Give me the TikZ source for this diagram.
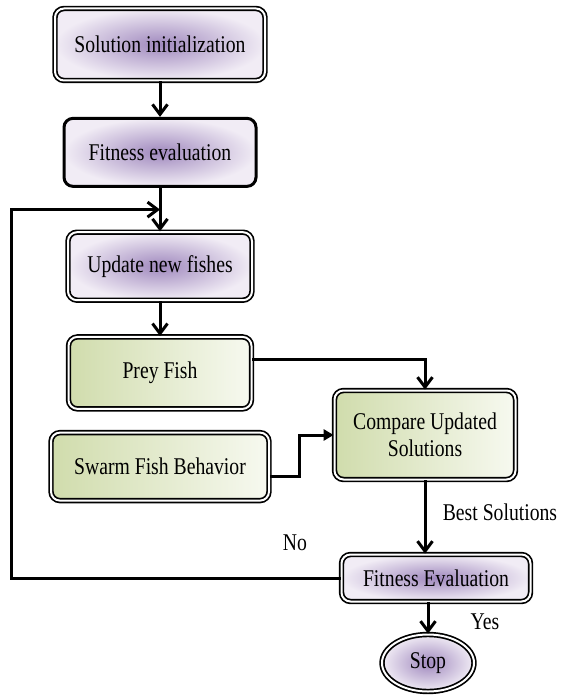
\documentclass[tikz,border=0pt]{standalone}
\usepackage{fontspec}
\setmainfont{Liberation Serif}[FakeStretch=0.82]
\usepackage{tikz}
\usetikzlibrary{arrows.meta,positioning,calc,shapes.geometric}

\definecolor{lilac}{HTML}{A089BE}
\definecolor{lilacpale}{HTML}{F1ECF5}
\definecolor{leaf}{HTML}{D0DCAC}
\definecolor{leafpale}{HTML}{F7F9F0}

\begin{document}
\begin{tikzpicture}[
  x=1pt, y=-1pt,
  font=\fontsize{24}{27}\selectfont,
  node distance=35pt,
  purplebox/.style={draw, rounded corners=9pt, double, double distance=2pt, line width=1.7pt,
    inner color=lilac, outer color=lilacpale, align=center},
  plainbox/.style={draw, rounded corners=9pt, line width=3pt,
    inner color=lilac, outer color=lilacpale, align=center},
  greenbox/.style={draw, rounded corners=9pt, double, double distance=2pt, line width=1.7pt,
    left color=leaf, right color=leafpale, align=center},
  endbox/.style={ellipse, draw, double, double distance=2pt, line width=1.7pt,
    inner color=lilac, outer color=lilacpale, minimum width=92pt, minimum height=57pt},
  arr/.style={-{Straight Barb[length=10pt,width=15pt]}, line width=3pt},
  farr/.style={-{Triangle[length=10pt,width=11pt]}, line width=3pt},
  lbl/.style={inner sep=0pt}
]
\useasboundingbox (0,0) rectangle (560,695);

% main column
\node[purplebox, minimum width=210pt, minimum height=72pt] (init) at (160,44.5) {Solution initialization};
\node[plainbox, minimum width=192pt, minimum height=68pt, below=35.5pt of init] (fitA) {Fitness evaluation};
\node[purplebox, minimum width=184pt, minimum height=68pt, below=43.5pt of fitA] (upd) {Update new fishes};
\node[greenbox, minimum width=183pt, minimum height=72pt, below=35pt of upd] (prey) {Prey Fish};
\node[greenbox, minimum width=218pt, minimum height=68pt, below=22pt of prey] (swarm) {Swarm Fish Behavior};

% right column
\node[greenbox, minimum width=181pt, minimum height=89pt] (cmp) at (425,435) {Compare Updated\\Solutions};
\node[purplebox, minimum width=189pt, minimum height=47pt] (fitB) at (436,578) {Fitness Evaluation};
\node[endbox] (stop) at (428,663) {Stop};

% labels
\node[lbl] (best) at (500,512) {Best Solutions};
\node[lbl] (no) at (295,543) {No};
\node[lbl] (yes) at (485,622) {Yes};

\coordinate (back) at ($(fitA.south)!0.5!(upd.north)$);
\coordinate (corner) at (11,578);

\draw[arr] (init) -- (fitA);
\draw[arr] (fitA) -- (upd);
\draw[arr] (upd) -- (prey);
\draw[arr] ([yshift=13pt]prey.east) -| (cmp.north);
\draw[farr] ([yshift=-10pt]swarm.east) -- ++(30,0) |- (cmp.west);
\draw[arr] (cmp.south) -- (cmp.south |- fitB.north);
\draw[arr] (stop.north |- fitB.south) -- (stop.north);
\draw[arr] (fitB.west) -- (corner) |- (back);
\end{tikzpicture}
\end{document}
